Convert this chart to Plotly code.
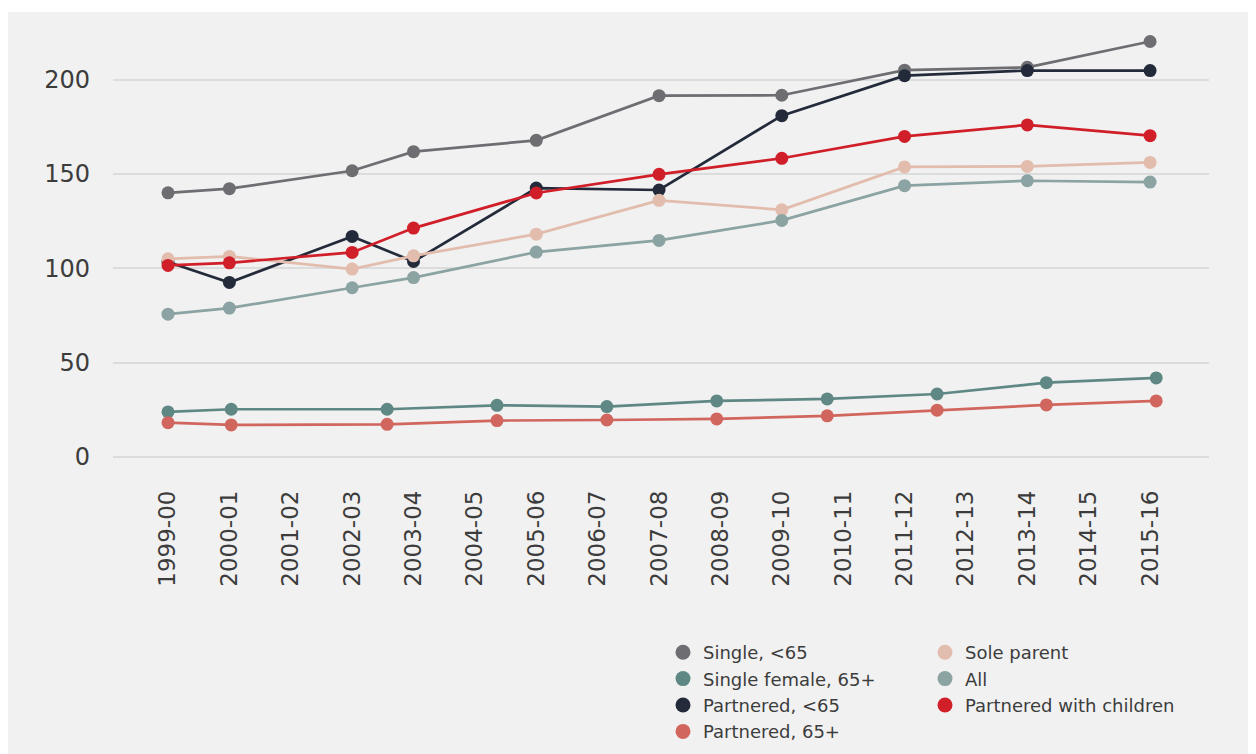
import plotly.graph_objects as go

# financial years on the x axis
periods = ["1999-00", "2000-01", "2001-02", "2002-03", "2003-04", "2004-05",
           "2005-06", "2006-07", "2007-08", "2008-09", "2009-10", "2010-11",
           "2011-12", "2012-13", "2013-14", "2014-15", "2015-16"]

# survey years for the under-65 / family series
main_periods = ["1999-00", "2000-01", "2002-03", "2003-04", "2005-06",
                "2007-08", "2009-10", "2011-12", "2013-14", "2015-16"]

# the 65+ series sit at their own positions along the period scale
pos_65 = [0, 1.03, 3.57, 5.36, 7.15, 8.94, 10.74, 12.53, 14.31, 16.1]

single_u65 = [140, 142.2, 151.7, 161.8, 167.8, 191.5, 191.7, 205, 206.5, 220.2]
partnered_u65 = [103.3, 92.5, 116.9, 103.6, 142.5, 141.5, 180.9, 202.1, 204.8, 204.8]
sole_parent = [105, 106.3, 99.6, 106.6, 118.1, 136, 131, 153.7, 154, 156.1]
all_hh = [75.7, 78.9, 89.7, 95.1, 108.6, 114.8, 125.4, 143.8, 146.4, 145.7]
partnered_kids = [101.5, 102.9, 108.4, 121.3, 139.9, 149.8, 158.3, 169.9, 176, 170.3]
single_f65 = [23.9, 25.3, 25.3, 27.4, 26.7, 29.7, 30.8, 33.4, 39.4, 41.9]
partnered_65 = [18.2, 17, 17.3, 19.3, 19.6, 20.2, 21.8, 24.8, 27.6, 29.7]

x_main = [periods.index(p) for p in main_periods]

FONT = "DejaVu Sans"
TXT = "#3c3c3c"
BG = "#f1f1f1"

# (name, x, y, colour)
series = [
    ("Single, <65", x_main, single_u65, "#6e6d72"),
    ("Partnered, <65", x_main, partnered_u65, "#232a3a"),
    ("Sole parent", x_main, sole_parent, "#e2bcac"),
    ("All", x_main, all_hh, "#8ba3a2"),
    ("Single female, 65+", pos_65, single_f65, "#5f8885"),
    ("Partnered, 65+", pos_65, partnered_65, "#d1665e"),
    ("Partnered with children", x_main, partnered_kids, "#d11f2a"),
]
colours = {s[0]: s[3] for s in series}

fig = go.Figure()
for name, xs, ys, col in series:
    fig.add_trace(go.Scatter(
        x=xs, y=ys, mode="lines+markers", name=name,
        line=dict(color=col, width=2.7),
        marker=dict(color=col, size=13),
        showlegend=False, hoverinfo="skip",
    ))

# legend entries: dots only, in two columns
legend_cols = {
    "legend": ["Single, <65", "Single female, 65+", "Partnered, <65", "Partnered, 65+"],
    "legend2": ["Sole parent", "All", "Partnered with children"],
}
for lg, names in legend_cols.items():
    for name in names:
        fig.add_trace(go.Scatter(
            x=[None], y=[None], mode="markers", name=name,
            marker=dict(color=colours[name], size=15),
            legend=lg, showlegend=True,
        ))

# plot area in figure pixels
W, H = 1256, 754
L, T, PW, PH = 105, 15, 1096, 434

leg_common = dict(
    orientation="v", xanchor="left", yanchor="top",
    y=-(626 - (T + PH)) / PH,
    bgcolor="rgba(0,0,0,0)", tracegroupgap=0,
    font=dict(family=FONT, size=18, color=TXT),
    itemclick=False,
)

fig.update_layout(
    width=W, height=H,
    margin=dict(l=L, r=W - L - PW, t=T, b=H - T - PH, autoexpand=False),
    paper_bgcolor="white",
    plot_bgcolor=BG,
    font=dict(family=FONT, color=TXT),
    shapes=[dict(type="rect", xref="paper", yref="paper",
                 x0=-L / PW, x1=1.2, y0=-0.8, y1=(T + PH - 4) / PH,
                 fillcolor=BG, line=dict(width=0), layer="below")],
    xaxis=dict(
        range=[-0.896, 16.96], tickmode="array",
        tickvals=list(range(len(periods))), ticktext=periods,
        tickangle=-90, showgrid=False, zeroline=False, showline=False,
        ticks="", ticklabelstandoff=28,
        tickfont=dict(family=FONT, size=23, color=TXT),
    ),
    yaxis=dict(
        range=[0, 230], tickvals=[0, 50, 100, 150, 200],
        gridcolor="#dcdcdc", gridwidth=1.5,
        zeroline=True, zerolinecolor="#dcdcdc", zerolinewidth=1.5,
        showline=False, ticks="", ticklabelstandoff=22,
        tickfont=dict(family=FONT, size=24, color=TXT),
    ),
    legend=dict(x=(655 - L) / PW, **leg_common),
    legend2=dict(x=(917 - L) / PW, **leg_common),
)

fig.write_html("out.html")
